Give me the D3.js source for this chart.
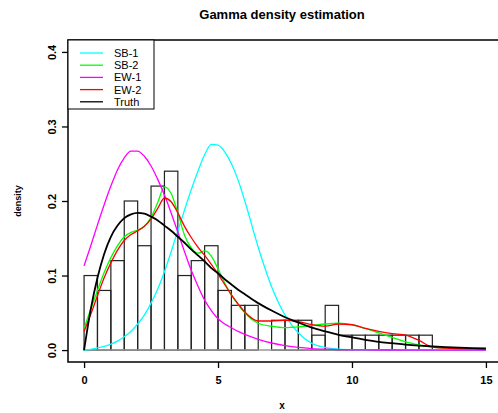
<!DOCTYPE html>
<html>
<head>
<meta charset="utf-8">
<script src="https://cdn.jsdelivr.net/npm/d3@7"></script>
<style>
  html, body { margin: 0; padding: 0; background: #fff; }
  svg { display: block; font-family: "Liberation Sans", Arial, Helvetica, sans-serif; }
</style>
</head>
<body>
<svg id="chart" width="498" height="413"></svg>
<script>
// ---------------- data ----------------
const title = "Gamma density estimation";
const xLabel = "x";
const yLabel = "density";
const xTicks = [0, 5, 10, 15];
const yTicks = [0.0, 0.1, 0.2, 0.3, 0.4];

// histogram: bins of width 0.5 from 0 to 13 (density)
const binStarts = [0,0.5,1,1.5,2,2.5,3,3.5,4,4.5,5,5.5,6,6.5,7,7.5,8,8.5,9,9.5,10,10.5,11,11.5,12,12.5];
const binWidth = 0.5;
const histDensity = [0.10,0.08,0.12,0.20,0.14,0.22,0.24,0.10,0.12,0.14,0.08,0.06,0.06,0.00,0.04,0.04,0.04,0.02,0.06,0.02,0.02,0.02,0.02,0.02,0.02,0.02];

// curve grid (x values at which curves were read)
const xGrid = [0,0.25,0.5,0.75,1,1.25,1.5,1.75,2,2.25,2.5,2.75,3,3.25,3.5,3.75,4,4.25,4.5,4.75,5,5.25,5.5,5.75,6,
               6.5,7,7.5,8,8.5,9,9.5,10,10.5,11,11.5,12,12.5,13,13.5,14,14.5,15];

const sb1 = [0,0.001,0.003,0.005,0.008,0.012,0.018,0.025,0.035,0.047,0.063,0.082,0.105,0.132,0.160,0.188,0.215,0.240,0.262,0.276,0.275,0.266,0.250,0.228,0.200,
             0.138,0.085,0.047,0.023,0.009,0.0035,0.0012,0.0004,0.0002,0.0001,0,0,0,0,0,0,0,0];
const sb2 = [0.029,0.055,0.080,0.104,0.124,0.140,0.152,0.158,0.161,0.166,0.178,0.198,0.219,0.210,0.184,0.154,0.137,0.130,0.133,0.126,0.109,0.090,0.074,0.061,0.050,
             0.036,0.032,0.030,0.031,0.033,0.035,0.036,0.034,0.029,0.023,0.017,0.011,0.007,0.004,0.0028,0.002,0.0017,0.0015];
const ew1 = [0.113,0.140,0.168,0.195,0.220,0.242,0.258,0.267,0.267,0.260,0.247,0.229,0.208,0.184,0.158,0.132,0.107,0.086,0.067,0.053,0.042,0.035,0.030,0.025,0.021,
             0.0145,0.0095,0.006,0.0035,0.002,0.0012,0.0007,0.0004,0.0002,0.0001,0.0001,0,0,0,0,0,0,0];
const ew2 = [0.025,0.048,0.073,0.097,0.117,0.134,0.147,0.155,0.160,0.166,0.176,0.190,0.204,0.199,0.184,0.166,0.151,0.138,0.127,0.115,0.102,0.088,0.074,0.062,0.051,
             0.039,0.039,0.040,0.038,0.034,0.032,0.035,0.034,0.029,0.025,0.022,0.020,0.013,0.004,0.0025,0.002,0.0017,0.0015];
const truth = [0,0.055,0.097,0.129,0.152,0.167,0.177,0.182,0.184,0.183,0.179,0.174,0.167,0.160,0.152,0.144,0.135,0.127,0.119,0.110,0.103,0.095,0.088,0.081,0.075,
               0.063,0.053,0.044,0.037,0.030,0.025,0.0205,0.017,0.0138,0.011,0.0092,0.0074,0.006,0.0049,0.004,0.0032,0.0026,0.0021];

const seriesNames = ["SB-1", "SB-2", "EW-1", "EW-2", "Truth"];
const seriesColors = ["#00FFFF", "#00FF00", "#FF00FF", "#FF0000", "#000000"];
const seriesValues = [sb1, sb2, ew1, ew2, truth];

// ---------------- layout ----------------
const svg = d3.select("#chart");
const W = 498, H = 413;
const plotLeft = 68, plotRight = 502, plotTop = 40, plotBottom = 362;

const x = d3.scaleLinear().domain([-0.6, 15.6]).range([plotLeft, plotRight]);
const y = d3.scaleLinear().domain([-0.016, 0.416]).range([plotBottom, plotTop]);

// title
svg.append("text")
  .attr("x", (plotLeft + plotRight) / 2 - 3)
  .attr("y", 19)
  .attr("text-anchor", "middle")
  .attr("font-size", 13)
  .attr("font-weight", "bold")
  .text(title);

// histogram bars
svg.append("g").selectAll("rect")
  .data(binStarts.map((b, i) => ({ x0: b, x1: b + binWidth, d: histDensity[i] })))
  .join("rect")
  .attr("x", d => x(d.x0))
  .attr("y", d => y(d.d))
  .attr("width", d => x(d.x1) - x(d.x0))
  .attr("height", d => y(0) - y(d.d))
  .attr("fill", "none")
  .attr("stroke", "#222")
  .attr("stroke-width", 1.2);

// baseline (gray)
svg.append("line")
  .attr("x1", x(0)).attr("x2", x(15))
  .attr("y1", y(0)).attr("y2", y(0))
  .attr("stroke", "#999").attr("stroke-width", 1.5);

// curves
const line = d3.line()
  .x((d, i) => x(xGrid[i]))
  .y(d => y(d))
  .curve(d3.curveMonotoneX);

seriesValues.forEach((vals, k) => {
  svg.append("path")
    .attr("d", line(vals))
    .attr("fill", "none")
    .attr("stroke", seriesColors[k])
    .attr("stroke-width", k === 4 ? 1.8 : 1.3);
});

// frame
svg.append("rect")
  .attr("x", plotLeft).attr("y", plotTop)
  .attr("width", plotRight - plotLeft).attr("height", plotBottom - plotTop)
  .attr("fill", "none").attr("stroke", "#000").attr("stroke-width", 1.5);

// x axis
const xAxis = d3.axisBottom(x).tickValues(xTicks).tickSize(6).tickPadding(8).tickFormat(d3.format("d"));
const gx = svg.append("g").attr("transform", `translate(0,${plotBottom})`).call(xAxis);
gx.select(".domain").remove();
gx.selectAll(".tick line").attr("stroke", "#000").attr("stroke-width", 1.3);
gx.selectAll(".tick text").attr("font-size", 11).attr("font-weight", "bold")
  .attr("font-family", "'Liberation Sans', Arial, sans-serif").attr("fill", "#000");

// y axis
const yAxis = d3.axisLeft(y).tickValues(yTicks).tickSize(6).tickFormat(d3.format(".1f"));
const gy = svg.append("g").attr("transform", `translate(${plotLeft},0)`).call(yAxis);
gy.select(".domain").remove();
gy.selectAll(".tick line").attr("stroke", "#000").attr("stroke-width", 1.3);
gy.selectAll(".tick text")
  .attr("font-size", 11).attr("font-weight", "bold")
  .attr("font-family", "'Liberation Sans', Arial, sans-serif").attr("fill", "#000")
  .attr("x", null).attr("dy", null)
  .attr("text-anchor", "middle")
  .attr("transform", "translate(-16,0) rotate(-90)")
  .attr("dominant-baseline", "central");

// axis labels
svg.append("text")
  .attr("x", (plotLeft + plotRight) / 2 - 3)
  .attr("y", 409)
  .attr("text-anchor", "middle")
  .attr("font-size", 10).attr("font-weight", "bold")
  .text(xLabel);

svg.append("text")
  .attr("transform", `translate(21,${(plotTop + plotBottom) / 2}) rotate(-90)`)
  .attr("text-anchor", "middle")
  .attr("font-size", 9).attr("font-weight", "bold")
  .text(yLabel);

// legend
const lg = svg.append("g");
lg.append("rect")
  .attr("x", plotLeft).attr("y", plotTop)
  .attr("width", 86).attr("height", 69)
  .attr("fill", "#fff").attr("stroke", "#000").attr("stroke-width", 1);
seriesNames.forEach((name, i) => {
  const yy = plotTop + 13 + i * 12.2;
  lg.append("line")
    .attr("x1", 80).attr("x2", 103).attr("y1", yy).attr("y2", yy)
    .attr("stroke", seriesColors[i]).attr("stroke-width", 1.3);
  lg.append("text")
    .attr("x", 114).attr("y", yy)
    .attr("dominant-baseline", "central")
    .attr("font-size", 11)
    .text(name);
});
</script>
</body>
</html>
